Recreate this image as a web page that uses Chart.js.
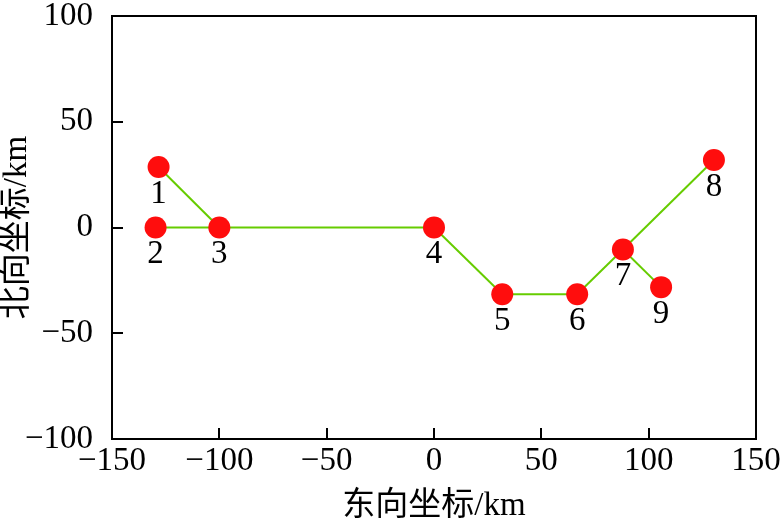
<!DOCTYPE html>
<html>
<head>
<meta charset="utf-8">
<script src="https://cdn.jsdelivr.net/npm/chart.js@4.4.1/dist/chart.umd.min.js"></script>
<style>
html,body{margin:0;padding:0;background:#fff;}
#wrap{width:784px;height:526px;}
</style>
</head>
<body>
<div id="wrap"><canvas id="c" width="784" height="526"></canvas></div>
<script>
// ---- data ----
const stationLabels = ['1','2','3','4','5','6','7','8','9'];
const eastKm  = [-128.3, -129.7, -100, 0, 31.8, 66.7, 88, 130.4, 105.8];
const northKm = [28.6, 0, 0, 0, -31.6, -31.6, -10.4, 31.9, -28.2];
const linkFrom = ['1','2','3','4','5','6','7','7'];
const linkTo   = ['3','3','4','5','6','7','8','9'];
const xTicks = [-150, -100, -50, 0, 50, 100, 150];
const yTicks = [-100, -50, 0, 50, 100];
const xTitle = '东向坐标/km';
const yTitle = '北向坐标/km';

const FONT = '"Liberation Serif", "Times New Roman", "Noto Sans CJK SC", serif';
const TITLE_FONT = '"Liberation Serif", "Noto Sans CJK SC", serif';

function pt(id){ const i = stationLabels.indexOf(id); return {x: eastKm[i], y: northKm[i]}; }

const datasets = [];
for (let k = 0; k < linkFrom.length; k++) {
  datasets.push({
    type: 'line',
    data: [pt(linkFrom[k]), pt(linkTo[k])],
    borderColor: '#66cc00',
    borderWidth: 2,
    pointRadius: 0,
    fill: false,
    order: 2
  });
}
datasets.push({
  type: 'scatter',
  data: stationLabels.map((s, i) => ({x: eastKm[i], y: northKm[i]})),
  backgroundColor: '#ff0d0d',
  borderColor: '#ff0d0d',
  borderWidth: 0,
  pointRadius: 11,
  pointHoverRadius: 11,
  order: 1
});

const framePlugin = {
  id: 'frame',
  afterDatasetsDraw(chart) {
    const ctx = chart.ctx, a = chart.chartArea;
    const xs = chart.scales.x, ys = chart.scales.y;
    ctx.save();
    ctx.strokeStyle = '#000';
    ctx.lineWidth = 2;
    ctx.strokeRect(a.left, a.top, a.right - a.left, a.bottom - a.top);
    const tl = 11;
    ctx.beginPath();
    xTicks.forEach(v => {
      const px = Math.round(xs.getPixelForValue(v));
      ctx.moveTo(px, a.bottom); ctx.lineTo(px, a.bottom - tl);
    });
    yTicks.forEach(v => {
      const py = Math.round(ys.getPixelForValue(v));
      ctx.moveTo(a.left, py); ctx.lineTo(a.left + tl, py);
    });
    ctx.stroke();
    // station labels
    const meta = chart.getDatasetMeta(chart.data.datasets.length - 1);
    ctx.fillStyle = '#000';
    ctx.font = '33px ' + FONT;
    ctx.textAlign = 'center';
    ctx.textBaseline = 'middle';
    meta.data.forEach((el, i) => {
      ctx.fillText(stationLabels[i], el.x, el.y + 27);
    });
    ctx.restore();
  }
};

new Chart(document.getElementById('c'), {
  data: { datasets },
  options: {
    responsive: false,
    animation: false,
    events: [],
    layout: { padding: { top: 16, right: 28, left: 0, bottom: 0 } },
    plugins: { legend: { display: false }, tooltip: { enabled: false } },
    scales: {
      x: {
        type: 'linear', min: -150, max: 150,
        afterBuildTicks: s => { s.ticks = xTicks.map(v => ({value: v})); },
        grid: { display: false },
        border: { display: false },
        ticks: { color: '#000', font: { family: FONT, size: 33 }, padding: -5,
                 maxRotation: 0, callback: v => String(v).replace('-', '\u2212') },
        title: { display: true, text: xTitle, color: '#000',
                 font: { family: TITLE_FONT, size: 33, lineHeight: 1 }, padding: { top: 0, bottom: 3 } },
        afterFit: s => { s.height = 87; s.paddingLeft = 0; s.paddingRight = 0; }
      },
      y: {
        type: 'linear', min: -100, max: 100,
        afterBuildTicks: s => { s.ticks = yTicks.map(v => ({value: v})); },
        grid: { display: false },
        border: { display: false },
        ticks: { color: '#000', font: { family: FONT, size: 33 }, padding: 11,
                 callback: v => String(v).replace('-', '\u2212') },
        title: { display: true, text: yTitle, color: '#000',
                 font: { family: TITLE_FONT, size: 33, lineHeight: 1 }, padding: { top: 1, bottom: 0 } },
        afterFit: s => { s.width = 112; s.paddingTop = 0; s.paddingBottom = 0; }
      }
    }
  },
  plugins: [framePlugin]
});
</script>
</body>
</html>
